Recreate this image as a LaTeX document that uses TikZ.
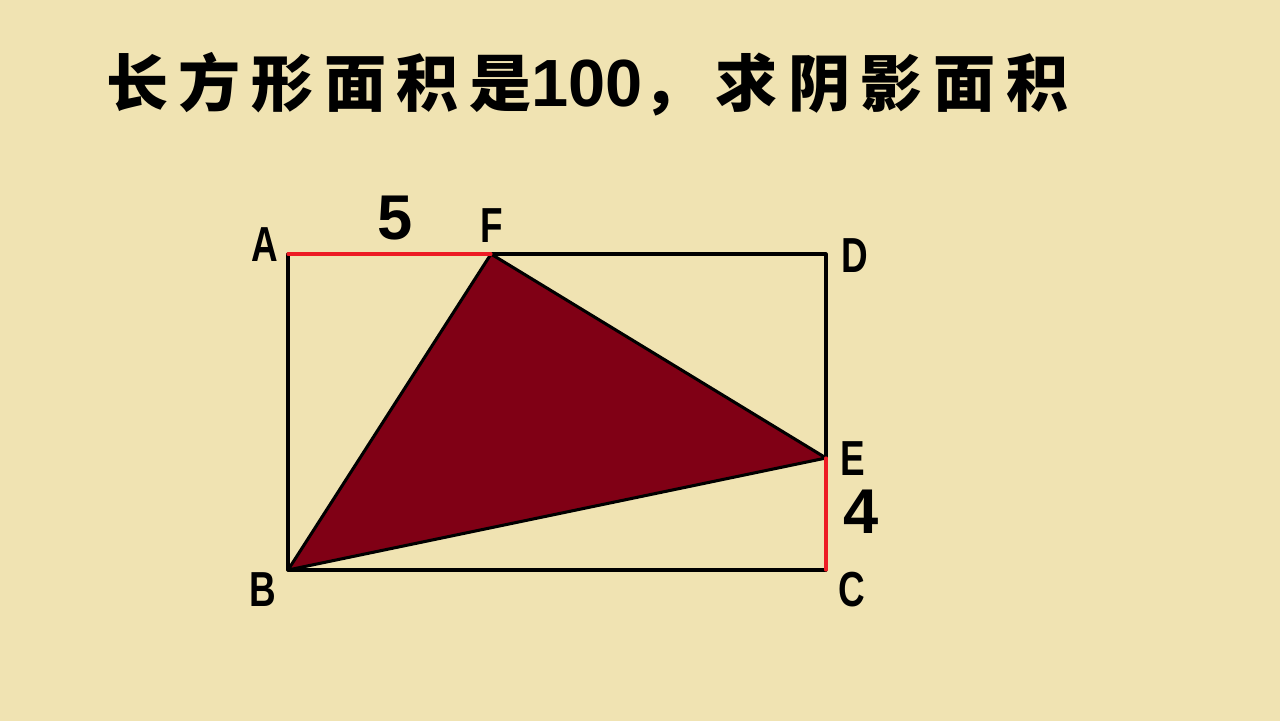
\documentclass[tikz,border=0pt]{standalone}
\usepackage{fontspec}
\setmainfont{Liberation Sans}
\newfontfamily\cjk[LetterSpace=17]{Noto Sans CJK SC}
\newfontfamily\narrow[FakeStretch=0.75]{Liberation Sans}
\definecolor{paper}{RGB}{240,227,178}
\definecolor{trired}{RGB}{128,0,21}
\definecolor{segred}{RGB}{237,28,36}
\tikzset{
  ptlabel/.style={font=\narrow\bfseries\fontsize{42}{42}\selectfont, inner sep=0pt},
  numlabel/.style={font=\bfseries\fontsize{54}{54}\selectfont, inner sep=0pt},
  side/.style={line width=2.6pt, line cap=round, line join=round}
}
\begin{document}
\begin{tikzpicture}[x=0.03cm, y=-0.03cm]
	\def\xl{288} \def\xr{826} \def\yt{254} \def\yb{570}
	\fill[paper] (0,0) rectangle (1280,721);
	\useasboundingbox (0,0) rectangle (1280,721);
	% title
	\node[anchor=west, inner sep=0pt] (title) at (106,84)
		{\cjk\bfseries\fontsize{53}{53}\selectfont 长方形面积是{\rmfamily\bfseries\fontsize{57}{57}\selectfont 100}，求阴影面积};
	% points
	\coordinate (A) at (\xl,\yt);
	\coordinate (B) at (\xl,\yb);
	\coordinate (C) at (\xr,\yb);
	\coordinate (D) at (\xr,\yt);
	\coordinate (F) at (491,\yt);
	\coordinate (E) at (\xr,458);
	% shaded triangle
	\fill[trired] (B) -- (F) -- (E) -- cycle;
	\draw[side] (F) -- (D) -- (E);
	\draw[side] (C) -- (B) -- (A);
	\draw[side] (B) -- (F) -- (E) -- cycle;
	\draw[side, segred] (A) -- (F);
	\draw[side, segred] (E) -- (C);
	% labels
	\node[ptlabel] (lA) at (265,245) {A};
	\node[ptlabel] (lB) at (263,590) {B};
	\node[ptlabel] (lC) at (852,590) {C};
	\node[ptlabel] (lD) at (855,256) {D};
	\node[ptlabel] (lE) at (853,459) {E};
	\node[numlabel] (lEC) at (861,512) {4};
	\node[numlabel] (lAF) at (395,218) {5};
	\node[ptlabel] (lF) at (492,226) {F};
\end{tikzpicture}
\end{document}
